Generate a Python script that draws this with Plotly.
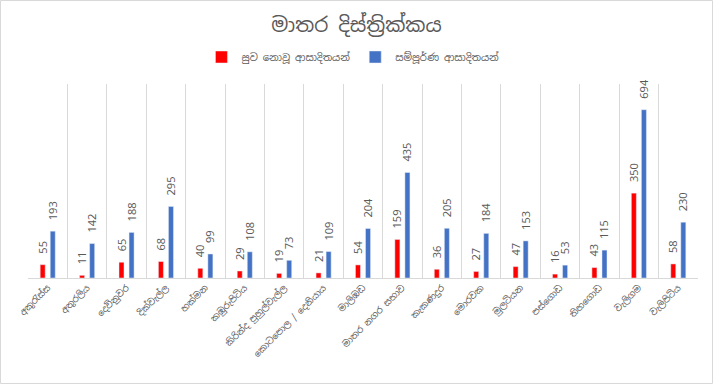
import plotly.graph_objects as go

categories = ["අකුරැස්ස", "අතුරලිය", "දෙවිනුවර", "දික්වැල්ල", "හක්මන", "කඹුරුපිටිය",
              "කිරින්ද පුහුල්වැල්ල", "කොටපොල / දෙනියාය", "මාලිඹඩ", "මාතර නගර සභාව",
              "කැකණදුර", "මොරවක", "මුලටියන", "පස්ගොඩ", "තිහගොඩ", "වැලිගම", "වැලිපිටිය"]
not_recovered = [55, 11, 65, 68, 40, 29, 19, 21, 54, 159, 36, 27, 47, 16, 43, 350, 58]
total_infected = [193, 142, 188, 295, 99, 108, 73, 109, 204, 435, 205, 184, 153, 53, 115, 694, 230]

title_text = "මාතර දිස්ත්‍රික්කය"
name_red = "සුව නොවූ ආසාදිතයන්"
name_blue = "සම්පූර්ණ ආසාදිතයන්"

FONT = "Noto Sans Sinhala, Iskoola Pota, Noto Sans, sans-serif"
GRAY = "#595959"

fig = go.Figure()
fig.add_trace(go.Bar(x=categories, y=not_recovered, name=name_red, marker_color="#FF0000",
                     texttemplate="  %{y}", textposition="outside", textangle=-90,
                     constraintext="none", hoverinfo="skip",
                     textfont=dict(color=GRAY, size=11), cliponaxis=False))
fig.add_trace(go.Bar(x=categories, y=total_infected, name=name_blue, marker_color="#4472C4",
                     texttemplate="  %{y}", textposition="outside", textangle=-90,
                     constraintext="none", hoverinfo="skip",
                     textfont=dict(color=GRAY, size=11), cliponaxis=False))

L, R, T, B = 28, 15, 84, 106
W, H = 713, 384
pw, ph = W - L - R, H - T - B

fig.update_layout(
    width=W, height=H,
    margin=dict(l=L, r=R, t=T, b=B, autoexpand=False),
    paper_bgcolor="white", plot_bgcolor="white",
    font=dict(family=FONT, color=GRAY),
    barmode="group", bargap=0.49, bargroupgap=0.5,
    hovermode=False,
    title=dict(text=title_text, x=0.5, xanchor="center", y=1 - 25 / H, yanchor="middle",
               font=dict(size=20, color=GRAY)),
    legend=dict(orientation="h", x=0.485, xanchor="center", y=1 + (T - 57) / ph, yanchor="middle",
                font=dict(size=10, color=GRAY), itemwidth=30),
    showlegend=True,
    xaxis=dict(tickson="boundaries", showgrid=True, gridcolor="#d9d9d9", gridwidth=1,
               showline=True, linecolor="#d9d9d9", ticks="", tickangle=-45, automargin=False,
               tickfont=dict(size=9, color=GRAY)),
    yaxis=dict(range=[0, 800], showgrid=False, showticklabels=False, zeroline=False,
               automargin=False),
)

x0 = (0.5 - L) / pw
x1 = (W - 0.5 - L) / pw
y1 = (H - B - 0.5) / ph
y0 = (H - B - (H - 0.5)) / ph
fig.add_shape(type="rect", xref="paper", yref="paper", x0=x0, x1=x1, y0=y0, y1=y1,
              line=dict(color="#d9d9d9", width=1), layer="below")

fig.write_html("out.html", config={"displayModeBar": False, "staticPlot": True},
               post_script="document.body.style.margin='0';")
